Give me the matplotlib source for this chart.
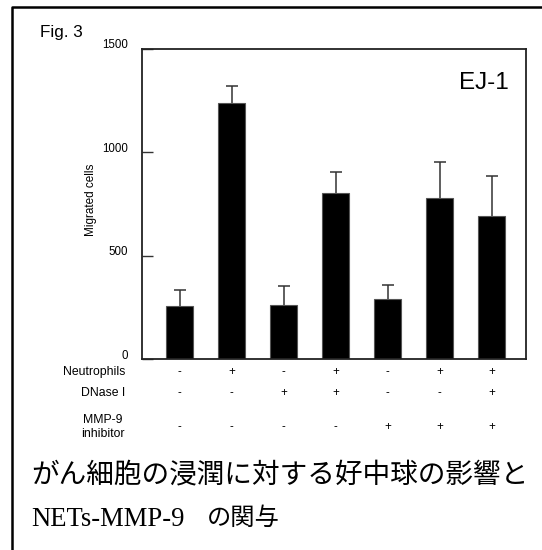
import matplotlib
matplotlib.use("Agg")
import matplotlib.pyplot as plt
from matplotlib.lines import Line2D
from matplotlib.transforms import blended_transform_factory, ScaledTranslation
import numpy as np

# ---- data ----
conditions = ["c1", "c2", "c3", "c4", "c5", "c6", "c7"]
migrated = [257, 1241, 264, 803, 293, 782, 693]
errors = [76, 82, 91, 101, 68, 173, 193]
neutrophils = ["-", "+", "-", "+", "-", "+", "+"]
dnase = ["-", "-", "+", "+", "-", "-", "+"]
mmp9_inh = ["-", "-", "-", "-", "+", "+", "+"]
yticks = [0, 500, 1000, 1500]
row_labels = ["Neutrophils", "DNase I", "MMP-9\ninhibitor"]

W, H = 542, 550
fig = plt.figure(figsize=(W / 100, H / 100), dpi=100)
fig.patch.set_facecolor("white")

def fx(px):
    return px / W

def fy(py):
    return 1 - py / H

ax = fig.add_axes([fx(142.3), fy(359.3), fx(525.7) - fx(142.3), fy(49) - fy(359.3)])
x = np.arange(len(conditions))
ax.bar(x, migrated, width=0.525, color="black", edgecolor="#555555", linewidth=0.8, zorder=2)
ax.errorbar(x, migrated, yerr=errors, fmt="none",
            ecolor="#333333", elinewidth=1.1, capsize=4.5, capthick=1.1, zorder=1)
ax.set_xlim(-0.719, 6.654)
ax.set_ylim(0, 1500)
ax.set_xticks([])
ax.set_yticks(yticks)
ax.set_yticklabels([str(v) for v in yticks], fontsize=8.3, family="Liberation Sans")
ax.tick_params(axis="y", direction="in", length=8, width=1, color="#333333", pad=10)
off = ScaledTranslation(0, 5 / 100, fig.dpi_scale_trans)
for lab in ax.get_yticklabels():
    lab.set_transform(lab.get_transform() + off)
for s in ax.spines.values():
    s.set_linewidth(1.3)
    s.set_color("#222222")

ax.text(0.955, 0.89, "EJ-1", transform=ax.transAxes, ha="right", va="center",
        fontsize=17.5, family="Liberation Sans")

fig.text(fx(90.7), fy(200), "Migrated cells", rotation=90, ha="center", va="center",
         fontsize=8.5, family="Liberation Sans")
fig.text(fx(40), fy(33), "Fig. 3", ha="left", va="center", fontsize=12.3, family="Liberation Sans")

# condition rows
bt = blended_transform_factory(ax.transData, fig.transFigure)
rows = [neutrophils, dnase, mmp9_inh]
row_y = [372, 393, 427]
for lab, vals, ry in zip(row_labels, rows, row_y):
    fig.text(fx(125), fy(ry), lab, ha="right", va="center", multialignment="center",
             fontsize=8.8, family="Liberation Sans", linespacing=1.3)
    for xi, v in zip(x, vals):
        fig.text(xi, fy(ry), v, transform=bt, ha="center", va="center",
                 fontsize=8.3, family="Liberation Sans")

# Japanese caption
fig.text(fx(31), fy(474), "がん細胞の浸潤に対する好中球の影響と", ha="left", va="center",
         fontsize=19.9, family=["Noto Sans CJK JP", "DejaVu Sans"])
fig.text(fx(31), fy(519), "NETs-MMP-9", ha="left", va="center",
         fontsize=19.2, family="Liberation Serif")
fig.text(fx(207), fy(518), "の関与", ha="left", va="center",
         fontsize=17.5, family=["Noto Sans CJK JP", "DejaVu Sans"])

# outer frame (left and top edges)
fig.add_artist(Line2D([fx(11.7), fx(11.7), 1.0], [0.0, fy(6.5), fy(6.5)],
                      transform=fig.transFigure, color="black", linewidth=1.8))

fig.savefig("out.png", dpi=100, facecolor="white")
